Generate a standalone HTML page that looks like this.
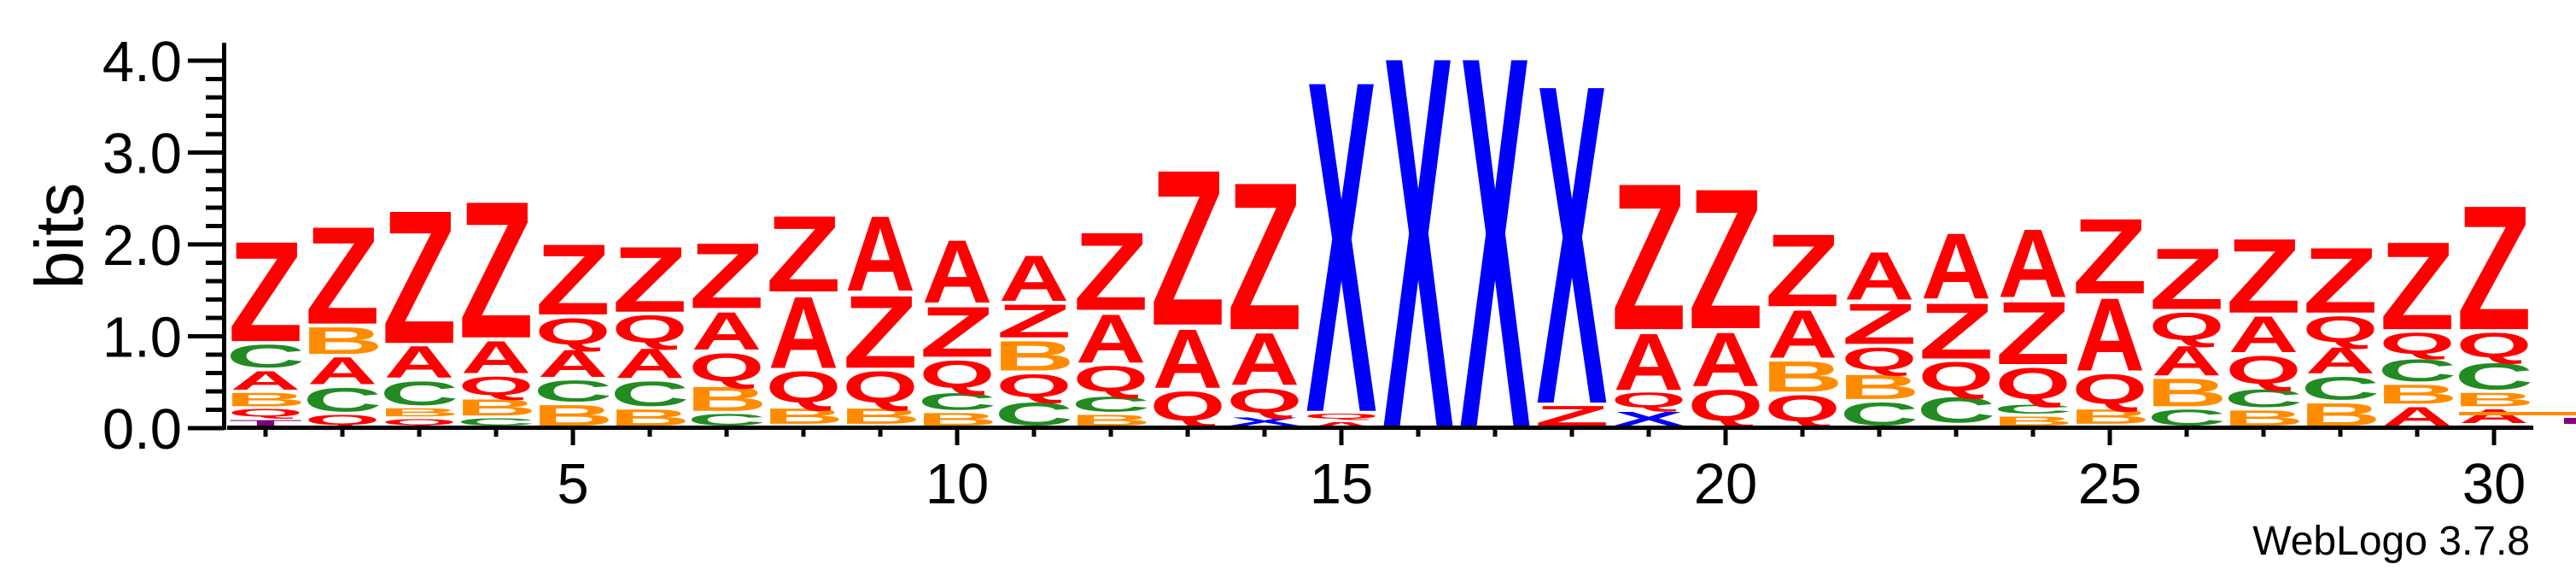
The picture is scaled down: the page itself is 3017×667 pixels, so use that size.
<!DOCTYPE html>
<html><head><meta charset="utf-8"><style>
html,body{margin:0;padding:0;background:#fff;}
svg{display:block;}
text{font-family:"Liberation Sans",sans-serif;}
</style></head><body>
<svg id="logo" width="3017" height="667" viewBox="0 0 3017 667" xmlns="http://www.w3.org/2000/svg">
<g id="stacks"></g>
<g id="axes"></g>
<text x="0" y="0" font-size="80" text-anchor="middle" transform="translate(97,276) rotate(-90)">bits</text>
<text x="2963" y="649" font-size="48" text-anchor="end">WebLogo 3.7.8</text>
<rect x="2880" y="482" width="137" height="4" fill="#FF8C00"/>
<rect x="3003" y="489" width="14" height="7" fill="#800080"/>
</svg>
<script>
const positions = [1,2,3,4,5,6,7,8,9,10,11,12,13,14,15,16,17,18,19,20,21,22,23,24,25,26,27,28,29,30];
const bitsZ = [1.15,1.12,1.52,1.56,0.82,0.76,0.76,0.88,0.84,0.59,0.40,0.90,1.77,1.68,0,0,0,0.25,1.67,1.60,0.84,0.48,0.65,0.73,0.87,0.71,0.86,0.76,1.01,1.42];
const bitsA = [0.24,0.33,0.38,0.39,0.33,0.36,0.45,0.83,0.87,0.73,0.54,0.57,0.69,0.61,0.07,0,0,0,0.66,0.63,0.56,0.56,0.76,0.79,0.84,0.36,0.43,0.32,0.24,0.18];
const bitsB = [0.18,0.33,0.12,0.21,0.26,0.21,0.30,0.20,0.20,0.17,0.36,0.15,0,0,0,0,0,0,0,0,0.37,0.30,0.03,0.13,0.19,0.34,0.20,0.28,0.24,0.18];
const bitsC = [0.29,0.30,0.30,0.11,0.27,0.31,0.16,0.02,0.02,0.22,0.29,0.20,0.03,0,0,0,0,0,0,0,0.02,0.29,0.32,0.13,0.02,0.21,0.23,0.29,0.28,0.33];
const bitsQ = [0.12,0.15,0.10,0.25,0.35,0.36,0.37,0.41,0.41,0.36,0.31,0.34,0.38,0.32,0.09,0,0,0,0.21,0.41,0.35,0.30,0.38,0.41,0.39,0.36,0.37,0.34,0.29,0.33];
const bitsX = [0,0,0,0,0,0,0,0,0,0,0,0,0,0.12,3.75,4.19,4.19,3.61,0.18,0.02,0,0,0,0,0,0,0,0,0,0];
const bitsT = [0.09,0,0,0,0,0,0,0,0,0,0,0,0,0,0,0,0,0,0,0,0,0,0,0,0,0,0,0,0,0.03];
const yTickLabels = ["0.0","1.0","2.0","3.0","4.0"];
const xTickLabels = ["5","10","15","20","25","30"];

const NS = "http://www.w3.org/2000/svg";
const Y0 = 501, PX_PER_BIT = 107.5;
function xScale(p){ return 221 + 90 * p; }
function yScale(b){ return Y0 - b * PX_PER_BIT; }
const colors = {Z:"#FF0000",A:"#FF0000",Q:"#FF0000",B:"#FF8C00",C:"#228B22",X:"#0000FF",T:"#800080"};
const inkW = {Z:0.57,A:0.72,B:0.62,C:0.64,Q:0.72,X:0.66,T:0.58};
const inkTop = {Z:72,A:72,B:72,C:73,Q:73,X:72,T:72};
const inkBot = {Z:0,A:0,B:0,C:1,Q:6,X:0,T:0};
const series = {Z:bitsZ,A:bitsA,B:bitsB,C:bitsC,Q:bitsQ,X:bitsX,T:bitsT};

const gStacks = document.getElementById('stacks');
positions.forEach((p, i) => {
  const items = Object.keys(series).map(k => [k, series[k][i]]).filter(d => d[1] > 0);
  items.sort((a, b) => a[1] - b[1]);
  let cum = 0;
  const cx = xScale(p);
  items.forEach(([k, v]) => {
    const yb = yScale(cum);
    const yt = yScale(cum + v);
    cum += v;
    let h = yb - yt;
    let bottom = yb;
    if (h > 8) { h -= 3; bottom = yb - 3; }
    const sy = h / (inkTop[k] + inkBot[k]);
    const sx = 82 / (inkW[k] * 100);
    const t = document.createElementNS(NS, 'text');
    
    
    t.setAttribute('font-size', '100');
    t.setAttribute('font-weight', 'bold');
    t.setAttribute('text-anchor', 'middle');
    t.setAttribute('fill', colors[k]);
    t.setAttribute('transform', 'translate(' + cx + ',' + (bottom - inkBot[k] * sy).toFixed(2) + ') scale(' + sx.toFixed(4) + ',' + sy.toFixed(4) + ')');
    t.textContent = k;
    gStacks.appendChild(t);
  });
});

const gAxes = document.getElementById('axes');
function rect(x, y, w, h, name){
  const r = document.createElementNS(NS, 'rect');
  
  
  r.setAttribute('x', x); r.setAttribute('y', y); r.setAttribute('width', w); r.setAttribute('height', h);
  r.setAttribute('fill', '#000');
  gAxes.appendChild(r);
}
rect(260, 50, 5, 453, 'y-axis-line');
rect(266, 498, 2701, 5, 'x-axis-line');
for (let k = 0; k <= 20; k++) {
  const b = k * 0.2;
  const y = yScale(b);
  const major = (k % 5 === 0);
  rect(major ? 220 : 241, y - 2.5, major ? 42 : 21, 5, major ? 'y-major-tick' : 'y-minor-tick');
}
yTickLabels.forEach((lab, i) => {
  const t = document.createElementNS(NS, 'text');
  
  
  t.setAttribute('x', 213); t.setAttribute('y', yScale(parseFloat(lab)) + 24);
  t.setAttribute('font-size', '67'); t.setAttribute('text-anchor', 'end');
  t.textContent = lab;
  gAxes.appendChild(t);
});
positions.forEach(p => {
  const major = (p % 5 === 0);
  rect(xScale(p) - 2.5, 500, 5, major ? 21 : 11, major ? 'x-major-tick' : 'x-minor-tick');
});
xTickLabels.forEach(lab => {
  const t = document.createElementNS(NS, 'text');
  
  
  t.setAttribute('x', xScale(parseInt(lab))); t.setAttribute('y', 589);
  t.setAttribute('font-size', '67'); t.setAttribute('text-anchor', 'middle');
  t.textContent = lab;
  gAxes.appendChild(t);
});
</script>
</body></html>
